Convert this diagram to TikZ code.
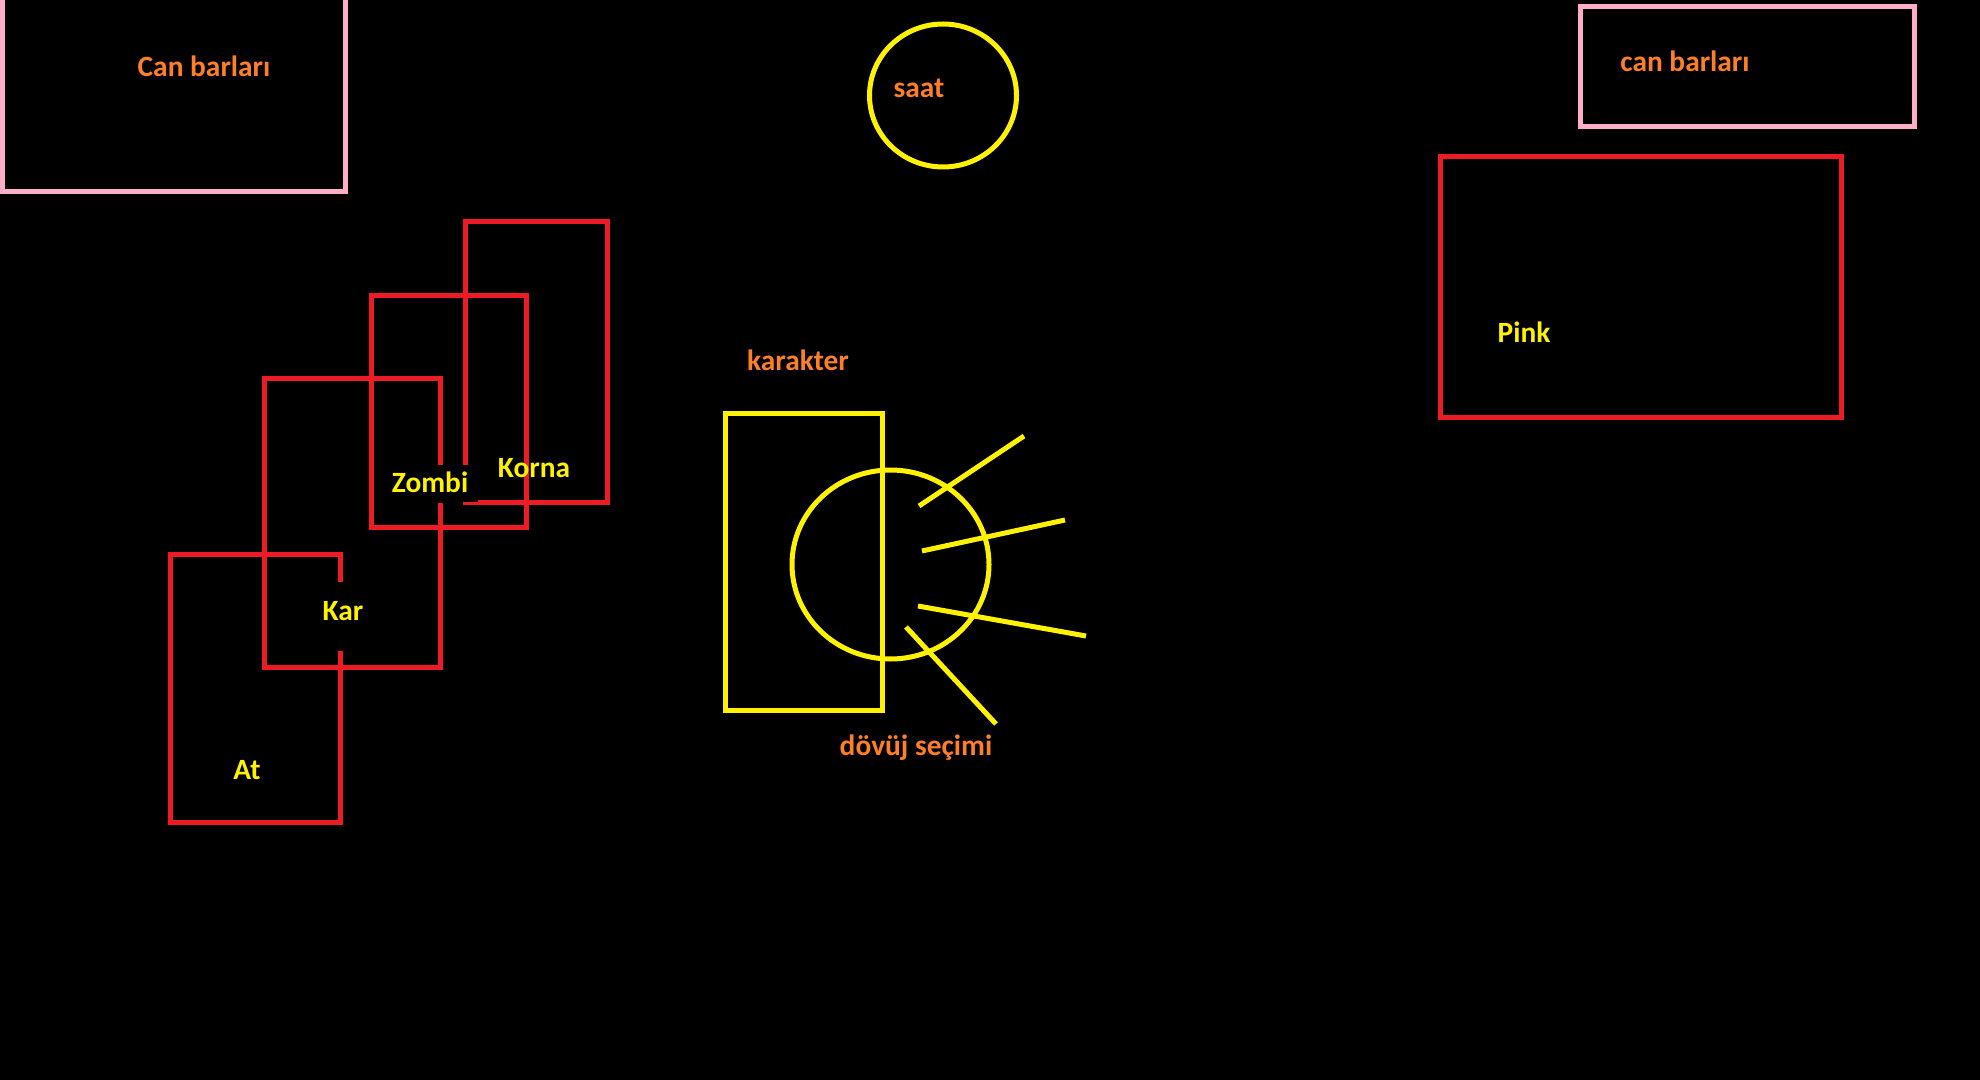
\documentclass[tikz,border=0pt]{standalone}
\usepackage{fontspec}
\setmainfont{Carlito}
\definecolor{pred}{HTML}{ED1C24}
\definecolor{pyel}{HTML}{FFF200}
\definecolor{ppink}{HTML}{FFAEC9}
\definecolor{porange}{HTML}{FF7F27}
\begin{document}
\begin{tikzpicture}[x=0.5pt,y=-0.5pt,
  line join=miter,
  redline/.style={draw=pred,line width=2.5pt},
  yelline/.style={draw=pyel,line width=2.5pt},
  pinkline/.style={draw=ppink,line width=2.5pt},
  lbl/.style={font=\bfseries\fontsize{14.7}{17}\selectfont,anchor=base,inner sep=0pt},
  otext/.style={lbl,text=porange},
  ytext/.style={lbl,text=pyel}]
\fill[black] (0,0) rectangle (1980,1080);
\useasboundingbox (0,0) rectangle (1980,1080);
% health bar boxes
\draw[pinkline] (2.5,-20) |- (345.5,192) -- (345.5,-20);
\node[otext] (canL) at (204,77) {Can barları};
\draw[pinkline] (1580.5,6.5) rectangle (1914.5,127);
\node[otext] (canR) at (1685,72) {can barları};
% clock
\draw[yelline] (943,95.5) ellipse [x radius=73.5, y radius=71.5];
\node[otext] (saat) at (919,98) {saat};
% Pink box
\draw[redline] (1440,157) rectangle (1841,418);
\node[ytext] (pink) at (1524,343) {Pink};
% card stack
\draw[redline] (340.5,582) |- (170.5,554.5) |- (340.5,822) -- (340.5,651);
\draw[redline] (440.5,464.5) |- (264.5,378.5) |- (440.5,667.5) -- (440.5,503);
\draw[redline] (371,295.5) rectangle (526.5,527.5);
\draw[redline] (465.5,464.5) |- (607.5,221.5) |- (478,502);
\draw[draw=pred,line width=1.1pt] (463,503.5) -- (478,503.5);
\node[ytext] (at) at (247,779) {At};
\node[ytext] (kar) at (343,620) {Kar};
\node[ytext] (zombi) at (430,492) {Zombi};
\node[ytext] (korna) at (534,477.5) {Korna};
% character
\node[otext] (karakter) at (798,371) {karakter};
\draw[yelline] (725.5,413.5) rectangle (882.5,710);
\draw[yelline] (890.5,564.5) ellipse [x radius=98.5, y radius=94.5];
\draw[yelline] (919,506) -- (1024,436);
\draw[yelline] (922,551) -- (1065,520);
\draw[yelline] (918,606) -- (1086,636);
\draw[yelline] (906,627) -- (996,724);
\node[otext] (dovuj) at (916,755) {dövüj seçimi};
\end{tikzpicture}
\end{document}
